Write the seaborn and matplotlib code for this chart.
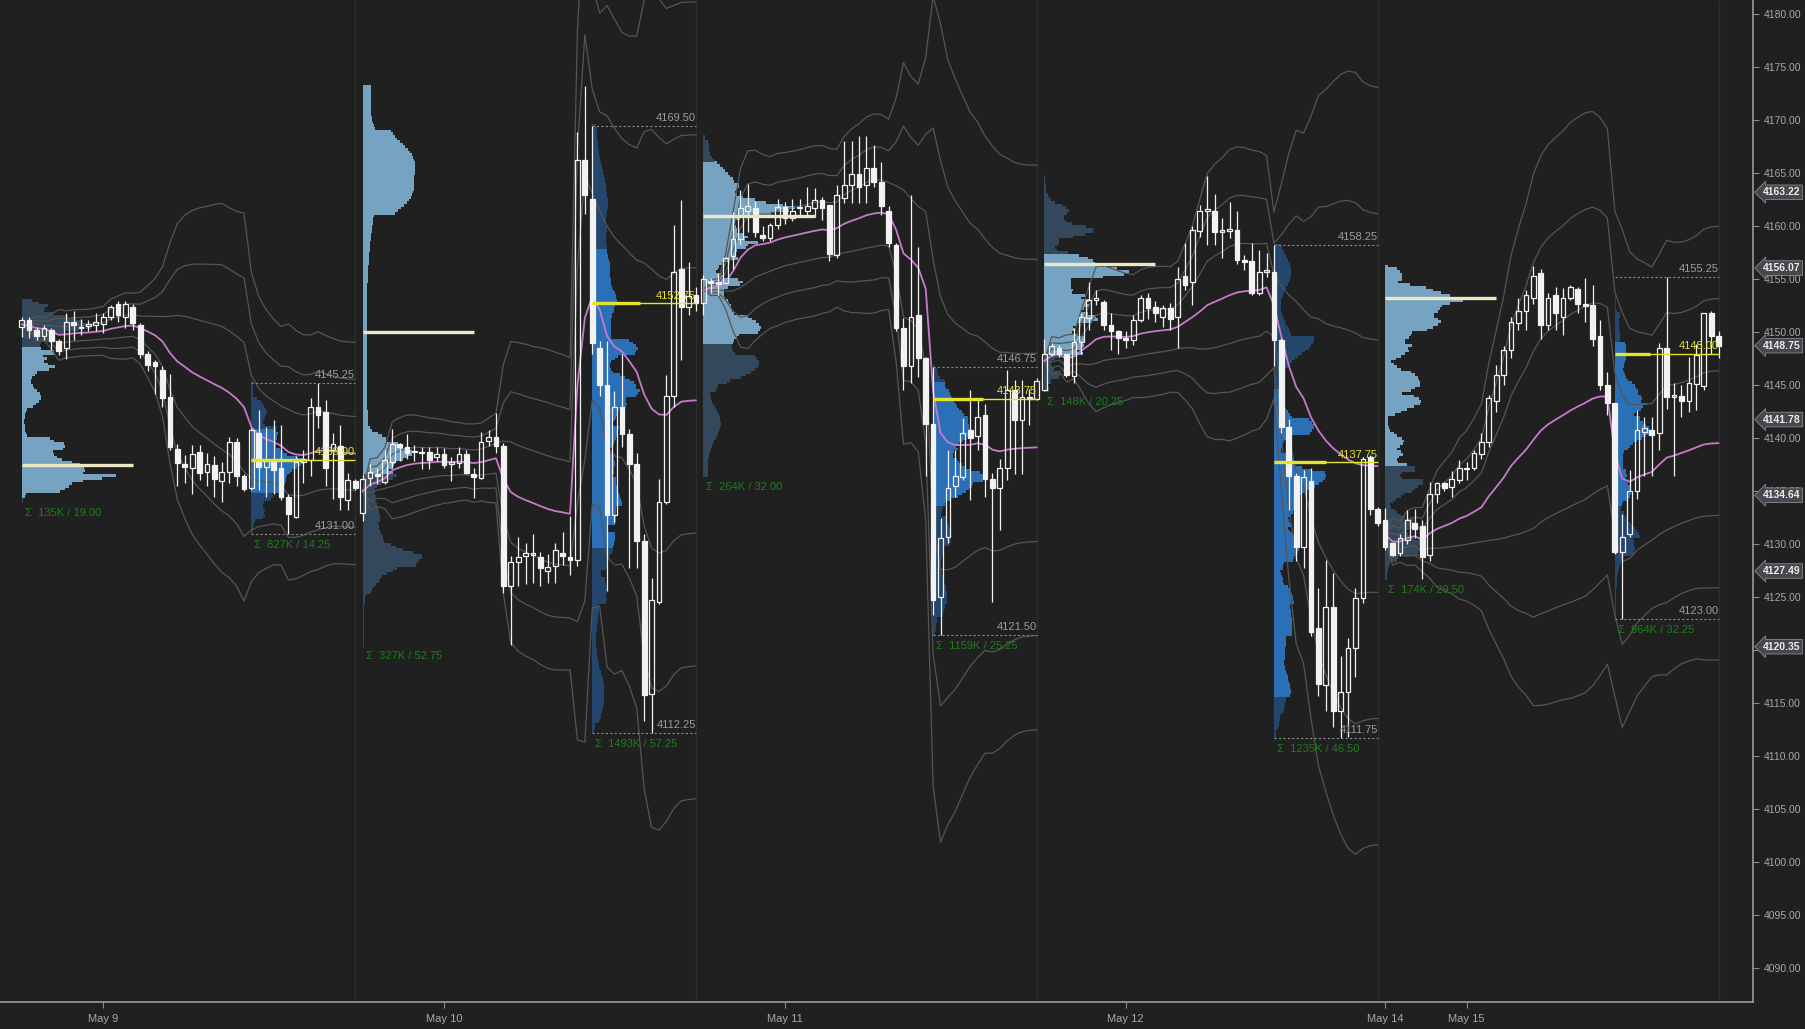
import numpy as np
import pandas as pd
import matplotlib
matplotlib.use('Agg')
import matplotlib.pyplot as plt
import matplotlib.transforms as mtransforms
import seaborn as sns

# 30 minute bars, one list per session: (open, high, low, close)
may09 = [
    (4150.5, 4151.5, 4149.6, 4151.2), (4151.2, 4151.5, 4149.5, 4150.2), (4150.2, 4150.5, 4149.3, 4149.7),
    (4149.7, 4150.7, 4149.3, 4150.4), (4150.2, 4150.4, 4148.3, 4149.2), (4149.2, 4149.4, 4147.9, 4148.2),
    (4148.5, 4151.8, 4147.5, 4151.0), (4151.0, 4152.0, 4149.3, 4150.7), (4150.5, 4151.3, 4149.8, 4150.4),
    (4150.6, 4151.2, 4150.1, 4150.8), (4150.7, 4151.8, 4150.1, 4151.0), (4150.75, 4151.8, 4149.9, 4151.5),
    (4151.5, 4152.6, 4151.2, 4152.4), (4152.7, 4153.0, 4151.0, 4151.6), (4151.5, 4153.0, 4150.4, 4152.7),
    (4152.4, 4152.7, 4150.2, 4150.9), (4150.7, 4150.9, 4147.6, 4148.0), (4148.0, 4148.2, 4146.4, 4146.9),
    (4147.2, 4147.4, 4144.2, 4146.8), (4146.5, 4146.8, 4143.0, 4143.8), (4143.9, 4146.1, 4138.9, 4139.2),
    (4139.0, 4139.5, 4135.5, 4137.7), (4137.6, 4138.4, 4135.8, 4137.3), (4137.2, 4139.4, 4134.8, 4138.5),
    (4138.7, 4139.4, 4136.1, 4136.7), (4136.8, 4138.6, 4135.5, 4137.6), (4137.5, 4138.3, 4134.5, 4136.2),
    (4136.0, 4137.8, 4134.0, 4136.8), (4136.8, 4140.1, 4135.8, 4139.7), (4139.7, 4140.0, 4135.5, 4136.5),
    (4136.5, 4136.6, 4135.0, 4135.2),
    (4135.3, 4141.0, 4135.1, 4140.8), (4140.5, 4142.7, 4135.1, 4137.3), (4137.3, 4141.1, 4134.5, 4137.9),
    (4137.9, 4141.7, 4134.8, 4137.0), (4137.2, 4141.3, 4134.2, 4134.5), (4134.5, 4134.8, 4131.0, 4132.9),
    (4132.6, 4138.3, 4132.5, 4137.8), (4137.8, 4138.9, 4135.8, 4138.1), (4138.0, 4143.8, 4136.5, 4143.0),
    (4143.0, 4145.25, 4141.0, 4142.2), (4142.5, 4143.6, 4135.5, 4137.2), (4138.9, 4140.5, 4134.3, 4139.5),
    (4139.3, 4141.3, 4133.2, 4134.5), (4134.2, 4136.7, 4133.2, 4136.1), (4136.0, 4136.2, 4135.1, 4135.3),
]
may10 = [
    (4133.0, 4136.6, 4132.2, 4136.2), (4136.3, 4137.6, 4135.5, 4136.8), (4136.6, 4137.2, 4135.7, 4136.5),
    (4135.9, 4138.9, 4135.7, 4138.0), (4137.8, 4140.9, 4137.2, 4139.5), (4139.5, 4139.6, 4137.9, 4139.2),
    (4139.2, 4140.4, 4138.1, 4138.6), (4138.7, 4139.4, 4137.9, 4138.7), (4138.7, 4139.2, 4137.1, 4138.6),
    (4138.7, 4139.2, 4137.1, 4138.0), (4138.2, 4139.2, 4137.9, 4138.5), (4138.5, 4139.1, 4137.2, 4137.5),
    (4137.6, 4138.2, 4136.0, 4137.7), (4137.7, 4139.2, 4137.2, 4138.5), (4138.5, 4138.9, 4136.6, 4136.7),
    (4136.6, 4137.2, 4134.4, 4136.4), (4136.3, 4140.6, 4136.2, 4139.7), (4139.8, 4140.8, 4139.3, 4140.1),
    (4140.1, 4142.4, 4138.6, 4139.3), (4139.3, 4139.6, 4125.4, 4126.1), (4126.1, 4128.9, 4120.5, 4128.3),
    (4128.3, 4130.7, 4126.1, 4128.8), (4128.9, 4130.1, 4126.3, 4129.2), (4129.0, 4131.0, 4126.4, 4129.0),
    (4128.8, 4129.3, 4126.1, 4127.8), (4127.5, 4129.1, 4126.4, 4127.9), (4128.0, 4130.1, 4126.4, 4129.5),
    (4129.2, 4131.2, 4128.1, 4128.9), (4128.8, 4132.7, 4127.1, 4128.5), (4128.5, 4168.9, 4128.0, 4166.3),
    (4166.3, 4173.25, 4161.2, 4163.0),
    (4162.6, 4169.5, 4148.0, 4149.0), (4148.5, 4149.2, 4144.0, 4145.0), (4145.0, 4149.2, 4125.6, 4132.8),
    (4132.8, 4144.5, 4132.0, 4143.0), (4143.0, 4148.0, 4139.2, 4140.4), (4140.4, 4140.9, 4127.8, 4137.6),
    (4137.6, 4138.6, 4127.8, 4130.3), (4130.3, 4131.0, 4113.3, 4115.8), (4115.9, 4126.8, 4112.25, 4124.8),
    (4124.6, 4136.2, 4124.4, 4134.0), (4134.0, 4146.0, 4133.8, 4144.0), (4144.0, 4160.1, 4143.0, 4155.7),
    (4156.0, 4162.5, 4147.4, 4152.4), (4152.4, 4156.6, 4151.6, 4153.4), (4153.5, 4154.3, 4152.0, 4152.8),
]
may11 = [
    (4152.8, 4155.4, 4151.6, 4155.0), (4154.8, 4155.1, 4153.7, 4154.7), (4154.7, 4155.6, 4153.5, 4154.6),
    (4154.7, 4157.1, 4154.6, 4157.0), (4157.2, 4161.4, 4156.0, 4158.8), (4158.8, 4163.4, 4158.3, 4161.7),
    (4161.5, 4164.0, 4159.5, 4161.9), (4161.7, 4162.4, 4159.0, 4159.5), (4159.2, 4160.0, 4158.6, 4158.9),
    (4158.9, 4160.3, 4158.6, 4160.1), (4160.1, 4162.6, 4159.8, 4161.8), (4161.8, 4162.3, 4160.2, 4160.8),
    (4160.8, 4162.6, 4160.5, 4161.5), (4161.7, 4162.6, 4160.9, 4161.7), (4161.5, 4163.7, 4161.1, 4161.9),
    (4161.7, 4163.6, 4160.9, 4162.5), (4162.5, 4162.8, 4160.6, 4161.7), (4162.0, 4162.0, 4156.7, 4157.4),
    (4157.3, 4163.9, 4157.0, 4163.0), (4162.7, 4168.1, 4162.2, 4163.9), (4163.9, 4168.1, 4162.2, 4164.9),
    (4164.9, 4168.5, 4162.2, 4163.7), (4163.9, 4168.5, 4162.2, 4165.5), (4165.5, 4167.7, 4163.7, 4164.2),
    (4164.2, 4166.1, 4161.1, 4161.9), (4161.5, 4161.9, 4158.1, 4158.4), (4158.2, 4158.4, 4150.1, 4150.4),
    (4150.4, 4151.4, 4144.6, 4146.8), (4146.8, 4163.0, 4145.2, 4151.5), (4151.6, 4158.1, 4145.8, 4147.6),
    (4147.6, 4147.7, 4136.5, 4141.4),
    (4141.4, 4146.75, 4123.3, 4124.8), (4125.0, 4132.5, 4121.5, 4130.6), (4130.7, 4138.9, 4130.1, 4135.3),
    (4135.5, 4138.9, 4134.5, 4136.5), (4136.4, 4141.9, 4136.1, 4140.5), (4140.8, 4144.6, 4134.2, 4140.0),
    (4140.2, 4143.6, 4138.9, 4142.0), (4142.2, 4143.2, 4134.5, 4136.2), (4136.2, 4136.7, 4124.6, 4135.3),
    (4135.3, 4138.1, 4131.4, 4137.2), (4137.2, 4146.5, 4136.1, 4144.6), (4144.6, 4145.5, 4136.6, 4141.7),
    (4141.7, 4145.5, 4136.6, 4143.9), (4143.9, 4144.7, 4141.3, 4143.7), (4143.7, 4145.7, 4143.6, 4145.4),
]
may12 = [
    (4144.6, 4149.4, 4144.5, 4148.0), (4148.0, 4149.0, 4147.8, 4148.7), (4148.5, 4148.8, 4147.7, 4148.0),
    (4148.0, 4148.0, 4145.8, 4146.0), (4145.9, 4150.4, 4145.2, 4149.1), (4149.1, 4151.8, 4148.0, 4151.5),
    (4151.4, 4154.8, 4150.2, 4153.1), (4153.1, 4154.0, 4152.6, 4153.2), (4152.9, 4153.1, 4150.2, 4150.7),
    (4150.7, 4151.8, 4148.3, 4150.1), (4150.1, 4150.2, 4148.0, 4149.5), (4149.5, 4150.1, 4148.5, 4149.3),
    (4149.3, 4151.6, 4148.8, 4151.2), (4151.2, 4153.5, 4151.0, 4153.2), (4153.2, 4153.7, 4151.3, 4152.3),
    (4152.4, 4153.0, 4151.0, 4151.8), (4151.5, 4152.6, 4150.5, 4152.3), (4152.3, 4152.8, 4150.2, 4151.3),
    (4151.5, 4156.2, 4148.5, 4155.0), (4155.3, 4158.4, 4154.0, 4154.5), (4154.8, 4160.0, 4152.6, 4159.7),
    (4159.6, 4162.0, 4159.0, 4161.5), (4161.5, 4164.75, 4158.2, 4161.6), (4161.5, 4163.1, 4158.2, 4159.5),
    (4159.5, 4160.8, 4157.0, 4159.6), (4159.6, 4162.3, 4158.9, 4159.8), (4159.7, 4161.5, 4156.5, 4156.8),
    (4156.8, 4157.3, 4155.9, 4156.6), (4156.7, 4158.4, 4153.5, 4153.7), (4153.7, 4157.8, 4153.5, 4155.7),
    (4155.7, 4157.5, 4155.2, 4155.7),
    (4155.7, 4158.25, 4146.8, 4149.3), (4149.3, 4149.5, 4140.5, 4141.1), (4141.1, 4141.8, 4133.2, 4136.5),
    (4136.5, 4136.7, 4128.4, 4129.8), (4129.8, 4137.0, 4127.8, 4136.4), (4136.0, 4137.2, 4121.4, 4121.7),
    (4122.1, 4125.9, 4115.7, 4116.8), (4116.7, 4128.5, 4114.3, 4124.1), (4124.1, 4127.3, 4112.8, 4114.3),
    (4114.3, 4119.5, 4111.75, 4116.1), (4116.1, 4121.2, 4111.8, 4120.2), (4120.2, 4125.9, 4117.5, 4124.9),
    (4124.9, 4138.2, 4124.5, 4138.1), (4138.2, 4138.4, 4132.8, 4133.3), (4133.3, 4133.5, 4131.7, 4132.0),
]
may15 = [
    (4132.3, 4133.4, 4129.5, 4129.8), (4130.1, 4130.2, 4128.9, 4129.0), (4129.2, 4131.0, 4128.9, 4130.6),
    (4130.4, 4133.2, 4130.0, 4132.3), (4132.0, 4133.3, 4130.6, 4131.5), (4131.7, 4132.3, 4126.75, 4128.8),
    (4129.0, 4135.9, 4128.4, 4134.8), (4134.8, 4135.9, 4133.9, 4135.8), (4135.8, 4135.9, 4135.0, 4135.3),
    (4135.4, 4136.9, 4134.5, 4136.2), (4136.1, 4138.0, 4135.8, 4137.2), (4137.1, 4137.8, 4136.1, 4137.2),
    (4137.2, 4138.9, 4137.0, 4138.6), (4138.5, 4140.5, 4138.1, 4139.7), (4139.7, 4144.1, 4139.2, 4143.8),
    (4143.5, 4146.9, 4142.5, 4146.0), (4146.0, 4148.7, 4145.0, 4148.3), (4148.3, 4151.5, 4147.6, 4151.0),
    (4150.9, 4153.2, 4150.2, 4152.0), (4152.0, 4154.0, 4150.2, 4153.5), (4153.2, 4156.25, 4152.7, 4155.3),
    (4155.6, 4156.0, 4149.4, 4150.7), (4150.7, 4153.7, 4150.2, 4153.2), (4153.5, 4154.3, 4150.2, 4151.8),
    (4151.5, 4154.2, 4149.8, 4153.2), (4153.2, 4154.5, 4153.1, 4154.3), (4154.1, 4154.3, 4151.8, 4152.7),
    (4152.7, 4155.1, 4151.0, 4152.5), (4152.6, 4154.5, 4148.7, 4149.4), (4149.7, 4151.2, 4144.6, 4145.0),
    (4145.0, 4146.3, 4142.2, 4143.3),
    (4143.3, 4143.3, 4129.1, 4129.3), (4129.3, 4132.9, 4123.0, 4130.7), (4131.0, 4137.0, 4130.7, 4135.0),
    (4135.0, 4142.7, 4134.3, 4140.8), (4140.6, 4142.0, 4136.5, 4141.0), (4140.8, 4142.0, 4136.5, 4140.3),
    (4140.5, 4149.0, 4138.9, 4148.5), (4148.5, 4155.25, 4142.8, 4143.9), (4143.9, 4145.2, 4136.5, 4143.9),
    (4144.0, 4145.0, 4142.0, 4143.5), (4143.5, 4147.7, 4142.5, 4145.2), (4145.1, 4148.9, 4142.7, 4147.9),
    (4144.9, 4151.8, 4144.6, 4151.8), (4151.8, 4152.0, 4148.0, 4149.7), (4149.7, 4150.1, 4147.6, 4148.75),
]

# estimated volume per bar, thousands of contracts
may09_vol = [3, 2, 2, 2, 3, 3, 3, 2, 2, 1, 2, 2, 3, 3, 3, 3, 6, 5, 5, 7, 10, 6, 4,
             5, 4, 4, 4, 4, 8, 10, 13,
             120, 90, 70, 60, 65, 55, 60, 45, 50, 45, 50, 40, 45, 20, 12]
may10_vol = [3, 2, 2, 2, 3, 2, 2, 2, 2, 2, 2, 2, 2, 2, 2, 2, 3, 3, 4,
             15, 8, 5, 4, 4, 4, 4, 4, 3, 4, 128, 100,
             310, 130, 140, 100, 80, 85, 85, 110, 85, 75, 70, 120, 80, 15, 8]
may11_vol = [4, 3, 2, 3, 4, 5, 4, 5, 4, 4, 4, 4, 3, 3, 3, 3, 4, 4, 8, 7, 5, 5, 6, 4, 5,
             10, 25, 32, 28, 28, 37,
             200, 150, 110, 70, 80, 90, 70, 90, 80, 60, 60, 50, 30, 12, 7]
may12_vol = [4, 3, 3, 4, 5, 5, 3, 4, 4, 3, 3, 3, 4, 4, 3, 3, 3, 4, 6, 7, 6, 5, 6, 4, 5,
             5, 6, 5, 6, 4, 18,
             230, 190, 160, 110, 90, 110, 60, 60, 40, 30, 30, 30, 58, 25, 12]
may15_vol = [6, 4, 4, 4, 3, 6, 8, 4, 3, 3, 4, 3, 4, 4, 8, 6, 6, 7, 5, 5, 6, 8, 6, 5, 5,
             5, 5, 5, 8, 10, 14,
             200, 120, 90, 80, 60, 60, 70, 60, 50, 50, 40, 40, 30, 10, 4]

date_ticks = [11, 57, 103, 149, 184, 195]
date_labels = ['May 9', 'May 10', 'May 11', 'May 12', 'May 14', 'May 15']

eth_poc = [4137.5, 4150.0, 4161.0, 4156.5, 4153.25]
rth_poc = [4138.00, 4152.75, 4143.75, 4137.75, 4148.00]
rth_high = [4145.25, 4169.50, 4146.75, 4158.25, 4155.25]
rth_low = [4131.00, 4112.25, 4121.50, 4111.75, 4123.00]
eth_total = ['135K', '327K', '264K', '148K', '174K']
eth_range = [19.00, 52.75, 32.00, 20.25, 29.50]
rth_total = ['827K', '1493K', '1159K', '1235K', '964K']
rth_range = [14.25, 57.25, 25.25, 46.50, 32.25]

tag_prices = [4163.22, 4156.07, 4148.75, 4141.78, 4134.64, 4127.49, 4120.35]

BG = '#202020'
SESSION_LEN = 46
RTH_START = 31
# widest profile row, in bars
ETH_WIDTH = [12.7, 8.0, 12.3, 11.5, 10.5]
RTH_WIDTH = [7.1, 6.5, 6.7, 7.0, 4.7]


def volume_profile(rows, vols):
    """Spread each bar's volume over its ticks, heavier near open and close."""
    levels = {}
    for (o, h, l, c), v in zip(rows, vols):
        ticks = np.arange(round(l * 4), round(h * 4) + 1) / 4
        s = max((h - l) * 0.18, 0.5)
        w = (1.0 + 3.0 * np.exp(-((ticks - o) / s) ** 2)
             + 3.0 * np.exp(-((ticks - c) / s) ** 2))
        w = w / w.sum() * v
        for t, x in zip(ticks, w):
            levels[t] = levels.get(t, 0) + x
    prices = np.array(sorted(levels))
    return prices, np.array([levels[p] for p in prices])


def value_area(prices, vol, poc):
    i = int(np.argmin(np.abs(prices - poc)))
    lo = hi = i
    total = vol[i]
    while total < 0.7 * vol.sum():
        up = vol[hi + 1] if hi + 1 < len(vol) else -1
        dn = vol[lo - 1] if lo > 0 else -1
        if up >= dn:
            hi += 1
            total += up
        else:
            lo -= 1
            total += dn
    return prices[lo], prices[hi]


sessions = [may09, may10, may11, may12, may15]
volumes = [may09_vol, may10_vol, may11_vol, may12_vol, may15_vol]

records = []
for s, (bars, vols) in enumerate(zip(sessions, volumes)):
    for j, ((o, h, l, c), v) in enumerate(zip(bars, vols)):
        records.append(dict(session=s, bar=s * SESSION_LEN + j, open=o, high=h,
                            low=l, close=c, volume=v))
df = pd.DataFrame(records)

# session VWAP with standard deviation bands
df['tp'] = (df.high + df.low + df.close) / 3
cv = df.groupby('session').volume.cumsum()
df['vwap'] = (df.tp * df.volume).groupby(df.session).cumsum() / cv
var = (df.tp ** 2 * df.volume).groupby(df.session).cumsum() / cv - df.vwap ** 2
df['sd'] = np.sqrt(var.clip(lower=0))
for k in (1, 2, 3):
    df[f'up{k}'] = df.vwap + k * df.sd
    df[f'dn{k}'] = df.vwap - k * df.sd

sns.set_style('dark', {'axes.facecolor': BG, 'figure.facecolor': BG})
plt.rcParams['font.family'] = ['Liberation Sans', 'DejaVu Sans']

fig = plt.figure(figsize=(18.06, 10.29), dpi=100)
ax = fig.add_axes([0, 27 / 1029, 1753 / 1806, 1002 / 1029])
ax.set_facecolor(BG)

# session separators
for s in range(5):
    ax.axvline(s * SESSION_LEN + SESSION_LEN - 1, color='#2d2d2d', lw=1, zorder=0)

# volume profiles
for s, (bars, vols) in enumerate(zip(sessions, volumes)):
    start = s * SESSION_LEN
    for part in ('eth', 'rth'):
        sl = slice(0, RTH_START) if part == 'eth' else slice(RTH_START, SESSION_LEN)
        prices, vol = volume_profile(bars[sl], vols[sl])
        poc = eth_poc[s] if part == 'eth' else rth_poc[s]
        va_lo, va_hi = value_area(prices, vol, poc)
        inside = (prices >= va_lo) & (prices <= va_hi)
        if part == 'eth':
            left, maxw = start, ETH_WIDTH[s]
            colors = np.where(inside, '#76a3c2', '#33495b')
        else:
            left, maxw = start + RTH_START, RTH_WIDTH[s]
            colors = np.where(inside, '#2b6fb6', '#24466c')
        ax.barh(prices, vol / vol.max() * maxw, left=left, height=0.27,
                color=colors, linewidth=0, zorder=1)

# VWAP bands and line
for col in ('up1', 'up2', 'up3', 'dn1', 'dn2', 'dn3'):
    sns.lineplot(data=df, x='bar', y=col, units='session', estimator=None,
                 color='#555555', lw=0.9, ax=ax, legend=False, zorder=2)
sns.lineplot(data=df, x='bar', y='vwap', units='session', estimator=None,
             color='#c67bc9', lw=1.3, ax=ax, legend=False, zorder=3)

# candles
body_lo = df[['open', 'close']].min(axis=1)
body_hi = df[['open', 'close']].max(axis=1)
ax.vlines(df.bar, df.low, body_lo, color='#f2f2f2', lw=0.9, zorder=4)
ax.vlines(df.bar, body_hi, df.high, color='#f2f2f2', lw=0.9, zorder=4)
up = df.close >= df.open
height = (body_hi - body_lo).clip(lower=0.15)
ax.bar(df.bar[up], height[up], bottom=body_lo[up], width=0.64,
       facecolor='none', edgecolor='#f2f2f2', lw=0.9, zorder=5)
ax.bar(df.bar[~up], height[~up], bottom=body_lo[~up], width=0.64,
       facecolor='#f2f2f2', edgecolor='#f2f2f2', lw=0.9, zorder=5)

# POC, high/low lines and labels
for s in range(5):
    start = s * SESSION_LEN
    rth0 = start + RTH_START
    end = start + SESSION_LEN - 1
    eth_low = min(b[2] for b in sessions[s][:RTH_START])

    ax.hlines(eth_poc[s], start, start + 15, color='#ece8c2', lw=2.4, zorder=6)
    ax.text(start + 0.4, eth_low - 0.6, f'Σ  {eth_total[s]} / {eth_range[s]:.2f}',
            color='#1e7d1e', fontsize=8, ha='left', va='top', zorder=7)

    ax.hlines(rth_poc[s], rth0, rth0 + RTH_WIDTH[s], color='#e4e42a', lw=2.4, zorder=6)
    ax.hlines(rth_poc[s], rth0, end, color='#e4e42a', lw=1.0, zorder=6)
    ax.text(end, rth_poc[s] + 0.25, f'{rth_poc[s]:.2f}', color='#e4e42a',
            fontsize=8, ha='right', va='bottom', zorder=7)

    for p in (rth_high[s], rth_low[s]):
        ax.hlines(p, rth0, end, color='#8a8a8a', lw=0.8, ls=(0, (2, 2)), zorder=6)
        ax.text(end, p + 0.25, f'{p:.2f}', color='#9c9c9c', fontsize=8,
                ha='right', va='bottom', zorder=7)
    ax.text(rth0 + 0.4, rth_low[s] - 0.6, f'Σ  {rth_total[s]} / {rth_range[s]:.2f}',
            color='#1e7d1e', fontsize=8, ha='left', va='top', zorder=7)

# axes
ax.set_xlim(-2.93, 233.65)
ax.set_ylim(4086.83, 4181.36)
ax.yaxis.tick_right()
ax.set_yticks(np.arange(4090, 4181, 5))
ax.set_yticklabels([f'{v:.2f}' for v in np.arange(4090, 4181, 5)])
ax.set_xticks(date_ticks)
ax.set_xticklabels(date_labels)
ax.tick_params(axis='y', colors='#8c8c8c', labelcolor='#a8a8a8', length=4,
               width=0.8, pad=4, labelsize=7.5, direction='out', right=True, left=False)
ax.tick_params(axis='x', colors='#8c8c8c', labelcolor='#a8a8a8', length=4,
               width=0.8, pad=5, labelsize=8, direction='out', bottom=True)
ax.set_xlabel('')
ax.set_ylabel('')
ax.grid(False)
for side in ('top', 'left'):
    ax.spines[side].set_visible(False)
for side in ('right', 'bottom'):
    ax.spines[side].set_visible(True)
    ax.spines[side].set_color('#9a9a9a')
    ax.spines[side].set_linewidth(1.2)

# price tags on the right axis, covering the tick labels beneath them
trans = mtransforms.blended_transform_factory(ax.transAxes, ax.transData)
for p in tag_prices:
    ax.text(1.0055, p, f'{p:.2f}', transform=trans, ha='left', va='center',
            fontsize=7.5, fontweight='bold', color='#ececec', zorder=10, clip_on=False,
            bbox=dict(boxstyle='larrow,pad=0.22', fc='#46464e', ec='#8a8a8a', lw=0.6))

fig.savefig('out.png', dpi=100, facecolor=BG)
